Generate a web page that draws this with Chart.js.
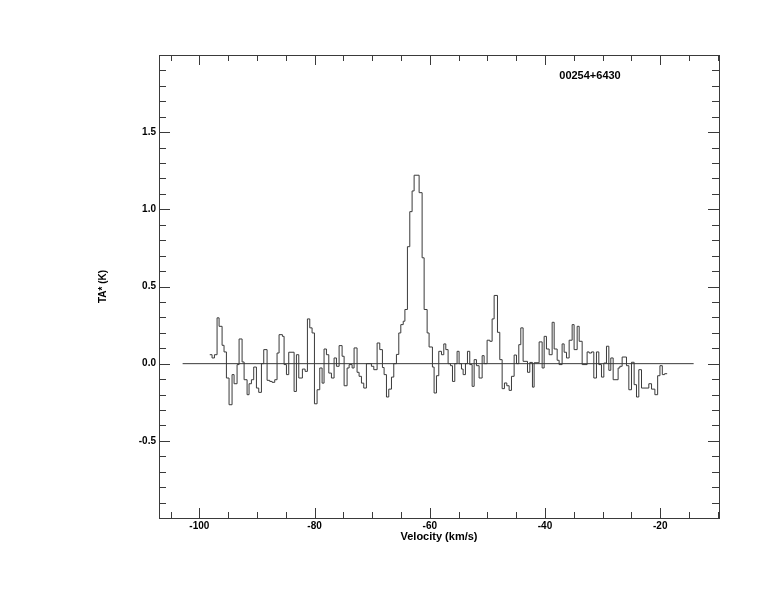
<!DOCTYPE html>
<html>
<head>
<meta charset="utf-8">
<script src="https://cdn.jsdelivr.net/npm/chart.js@4.4.0/dist/chart.umd.min.js"></script>
<style>
  html, body { margin: 0; padding: 0; background: #fff; }
  #wrap { width: 774px; height: 612px; }
</style>
</head>
<body>
<div id="wrap"><canvas id="spectrum" width="774" height="612"></canvas></div>
<script>
// spectrum: left edge of each channel step (km/s) and TA* (K)
const velocity = [
  -98.19, -97.79, -97.38, -96.92, -96.57, -96.05, -95.71, -95.30, -94.84, -94.32,
  -93.97, -93.45, -93.10, -92.58, -92.23, -91.71, -91.37, -90.96, -90.56, -90.09,
  -89.69, -89.22, -88.82, -88.24, -87.78, -87.37, -86.91, -86.51, -86.16, -85.58,
  -85.29, -84.88, -84.48, -83.55, -83.15, -82.74, -82.11, -81.64, -81.24, -80.83,
  -80.43, -80.02, -79.56, -79.10, -78.69, -78.35, -77.94, -77.53, -77.07, -76.61,
  -76.20, -75.74, -75.22, -74.87, -74.35, -74.00, -73.48, -73.14, -72.62, -72.27,
  -71.86, -71.46, -71.00, -70.13, -69.72, -69.14, -68.68, -68.22, -67.93, -67.52,
  -67.12, -66.65, -66.25, -65.79, -65.38, -65.03, -64.61, -64.32, -63.88, -63.47,
  -63.07, -62.72, -61.85, -61.33, -60.98, -60.46, -60.12, -59.54, -59.25, -58.84,
  -58.44, -57.97, -57.57, -57.22, -56.82, -56.41, -56.06, -55.66, -55.26, -54.91,
  -54.50, -54.21, -53.81, -53.46, -53.06, -52.65, -52.30, -51.90, -51.44, -50.91,
  -50.57, -50.05, -49.58, -49.18, -48.83, -48.25, -47.85, -47.44, -47.04, -46.63,
  -46.23, -45.82, -45.36, -44.95, -44.55, -44.20, -43.80, -43.04, -42.64, -42.18,
  -41.89, -41.02, -40.50, -40.15, -39.75, -39.28, -38.76, -38.41, -37.89, -37.55,
  -37.03, -36.68, -36.27, -35.81, -35.29, -34.95, -34.42, -34.07, -33.55, -32.69,
  -32.34, -31.93, -31.53, -31.07, -30.66, -30.20, -29.79, -29.33, -28.92, -28.58,
  -28.17, -27.31, -27.01, -26.61, -25.86, -25.45, -24.99, -24.53, -24.12, -23.72,
  -23.25, -21.98, -21.51, -20.93, -20.45, -20.05, -19.64, -19.24
];
const ta = [
  0.058, 0.037, 0.058, 0.297, 0.242, 0.119, 0.076, -0.093, -0.266, -0.071,
  -0.130, -0.006, 0.160, 0.011, -0.104, -0.201, -0.130, -0.104, -0.022, -0.158,
  -0.186, 0.000, 0.091, -0.108, -0.115, -0.121, -0.104, 0.069, 0.188, 0.177,
  -0.006, -0.071, 0.074, -0.180, 0.058, -0.093, -0.035, -0.050, 0.290, 0.232,
  0.199, -0.260, -0.169, -0.028, -0.126, 0.095, 0.058, -0.061, -0.093, 0.037,
  -0.017, 0.117, 0.048, -0.143, -0.028, -0.006, -0.028, 0.102, -0.056, -0.082,
  -0.126, -0.158, 0.000, -0.017, -0.039, 0.134, 0.091, -0.025, -0.071, -0.216,
  -0.165, -0.087, 0.000, 0.060, 0.199, 0.253, 0.275, 0.351, 0.758, 0.985,
  1.119, 1.221, 1.108, 0.686, 0.351, 0.199, 0.108, -0.022, -0.190, -0.078,
  0.080, 0.058, 0.128, 0.091, 0.000, -0.013, -0.115, 0.000, 0.080, 0.000,
  -0.035, -0.071, 0.000, 0.080, -0.006, -0.147, 0.026, -0.013, -0.093, 0.052,
  0.000, 0.152, 0.145, 0.290, 0.442, 0.203, 0.026, -0.162, -0.125, -0.143,
  -0.173, -0.082, 0.056, 0.000, 0.123, 0.232, 0.015, -0.056, 0.008, -0.152,
  0.006, 0.141, -0.028, 0.177, 0.095, 0.058, 0.268, 0.095, 0.022, -0.006,
  0.128, 0.074, 0.037, 0.152, 0.253, 0.091, 0.242, 0.145, -0.006, 0.076,
  0.069, 0.076, -0.093, 0.076, -0.006, -0.087, 0.004, 0.113, -0.043, 0.037,
  -0.104, -0.028, -0.017, 0.043, -0.013, -0.169, 0.009, -0.136, -0.216, -0.039,
  -0.158, -0.130, -0.165, -0.201, -0.078, -0.013, -0.071, -0.065
];
const velocityEnd = -18.80;      // right edge of the last channel

const baseline = [-102.9, -14.2]; // zero line, from / to (km/s)

const xRange = [-107.0, -9.8];
const yRange = [-1.0, 2.0];
const xMajor = 20, xMinor = 5;
const yMajor = 0.5, yMinor = 0.1;

const sourceName = '00254+6430';
const xTitle = 'Velocity (km/s)';
const yTitle = 'TA* (K)';

const ink = '#3a3a3a';
Chart.defaults.font.family = '"Liberation Sans", Arial, sans-serif';
Chart.defaults.color = '#000';

const specPoints = velocity.map((v, i) => ({ x: v, y: ta[i] }));
specPoints.push({ x: velocityEnd, y: ta[ta.length - 1] });

// IDL style box: frame plus inward ticks on all four sides, and the source label
const boxTicks = {
  id: 'boxTicks',
  afterDraw(chart) {
    const { ctx, chartArea: a } = chart;
    const xs = chart.scales.x, ys = chart.scales.y;
    ctx.save();
    ctx.strokeStyle = ink;
    ctx.lineWidth = 1;
    ctx.strokeRect(a.left + 0.5, a.top + 0.5, a.right - a.left, a.bottom - a.top);
    ctx.beginPath();
    for (let v = Math.ceil(xRange[0] / xMinor) * xMinor; v <= xRange[1]; v += xMinor) {
      const px = Math.round(xs.getPixelForValue(v)) + 0.5;
      const len = v % xMajor === 0 ? 10 : 6;
      ctx.moveTo(px, a.bottom); ctx.lineTo(px, a.bottom - len);
      ctx.moveTo(px, a.top); ctx.lineTo(px, a.top + len);
    }
    const i0 = Math.ceil(yRange[0] / yMinor - 1e-6), i1 = Math.floor(yRange[1] / yMinor + 1e-6);
    const per = Math.round(yMajor / yMinor);
    for (let i = i0; i <= i1; i++) {
      const py = Math.round(ys.getPixelForValue(i * yMinor)) + 0.5;
      const len = i % per === 0 ? 11 : 7;
      ctx.moveTo(a.left, py); ctx.lineTo(a.left + len, py);
      ctx.moveTo(a.right, py); ctx.lineTo(a.right - len, py);
    }
    ctx.stroke();

    ctx.fillStyle = '#000';
    ctx.font = 'bold 11px "Liberation Sans", Arial, sans-serif';
    ctx.textAlign = 'center';
    ctx.textBaseline = 'middle';
    ctx.fillText(sourceName, a.right - 129, a.top + 21);
    ctx.restore();
  }
};

new Chart(document.getElementById('spectrum'), {
  type: 'line',
  data: {
    datasets: [
      {
        data: specPoints,
        stepped: true,
        borderColor: ink,
        borderWidth: 1,
        pointRadius: 0,
        fill: false
      },
      {
        data: baseline.map(v => ({ x: v, y: 0 })),
        borderColor: ink,
        borderWidth: 1,
        pointRadius: 0,
        fill: false
      }
    ]
  },
  options: {
    responsive: false,
    animation: false,
    events: [],
    layout: { padding: { top: 55, right: 55, left: 0, bottom: 0 } },
    plugins: {
      legend: { display: false },
      tooltip: { enabled: false }
    },
    scales: {
      x: {
        type: 'linear',
        min: xRange[0],
        max: xRange[1],
        grid: { display: false, drawTicks: false },
        border: { display: false },
        ticks: {
          stepSize: xMajor,
          autoSkip: false,
          maxRotation: 0,
          padding: 2,
          font: { size: 10, weight: 'bold' },
          callback: v => (v % xMajor === 0 ? String(v) : '')
        },
        title: {
          display: true,
          text: xTitle,
          font: { size: 11, weight: 'bold' },
          padding: { top: 0, bottom: 68 }
        },
        afterFit: s => { s.height = 94; }
      },
      y: {
        min: yRange[0],
        max: yRange[1],
        grid: { display: false, drawTicks: false },
        border: { display: false },
        ticks: {
          stepSize: yMajor,
          autoSkip: false,
          padding: 3,
          font: { size: 10, weight: 'bold' },
          callback: v => (Math.abs(v - yRange[0]) < 1e-6 || Math.abs(v - yRange[1]) < 1e-6) ? '' : v.toFixed(1)
        },
        title: {
          display: true,
          text: yTitle,
          font: { size: 10, weight: 'bold' },
          padding: { top: 97, bottom: 0 }
        },
        afterFit: s => { s.width = 159; }
      }
    }
  },
  plugins: [boxTicks]
});
</script>
</body>
</html>
